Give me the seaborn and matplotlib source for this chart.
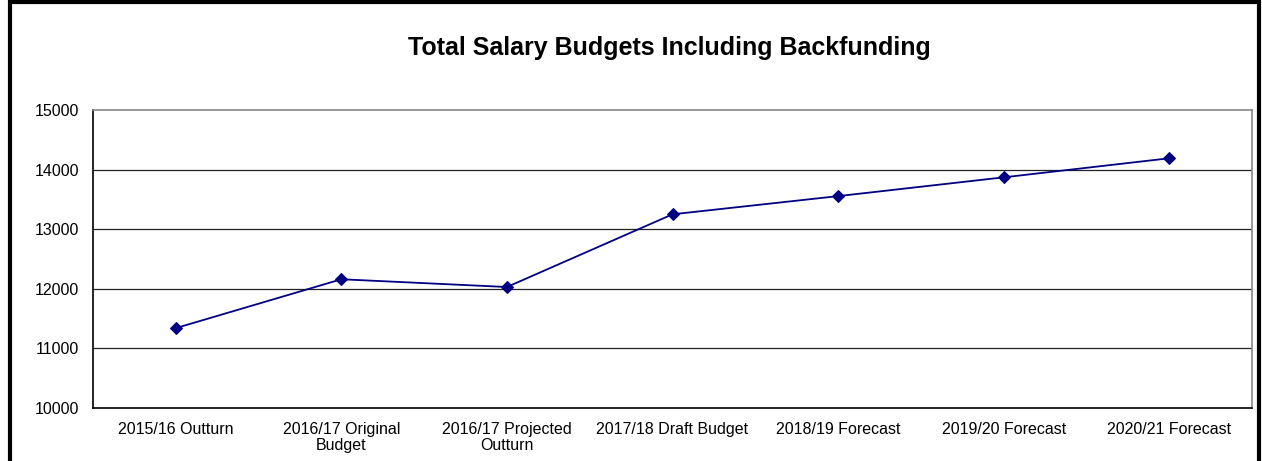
import numpy as np
import pandas as pd
import matplotlib
matplotlib.use("Agg")
import matplotlib.pyplot as plt
import seaborn as sns
from matplotlib.patches import Rectangle

categories = ["2015/16 Outturn", "2016/17 Original\nBudget", "2016/17 Projected\nOutturn",
              "2017/18 Draft Budget", "2018/19 Forecast", "2019/20 Forecast", "2020/21 Forecast"]
values = [11340, 12160, 12030, 13250, 13555, 13870, 14190]
y_ticks = [10000, 11000, 12000, 13000, 14000, 15000]

sns.set_style("white")
plt.rcParams["font.family"] = ["Liberation Sans", "DejaVu Sans"]
plt.rcParams["text.color"] = "black"
plt.rcParams["xtick.color"] = "black"
plt.rcParams["ytick.color"] = "black"

df = pd.DataFrame({"pos": np.arange(len(categories)), "value": values})

fig = plt.figure(figsize=(12.62, 4.61), dpi=100)
ax = fig.add_axes([93 / 1262, 1 - 408 / 461, (1252 - 93) / 1262, (408 - 110) / 461])

for y in y_ticks[1:-1]:
    ax.axhline(y, color="#222222", lw=0.9, zorder=1)

sns.lineplot(data=df, x="pos", y="value", ax=ax, color="#000080", lw=1.3,
             marker="D", markersize=6.5, markeredgecolor="#000080", zorder=3)

ax.set_xlim(-0.5, len(categories) - 0.5)
ax.set_ylim(10000, 15000)
ax.set_yticks(y_ticks)
ax.set_xticks(np.arange(len(categories)))
ax.set_xticklabels(categories, fontsize=11.5, linespacing=1.1)
ax.set_xticks(np.arange(len(categories) + 1) - 0.5, minor=True)
ax.tick_params(axis="x", which="major", length=0, pad=10)
ax.tick_params(axis="x", which="minor", length=5, width=1, color="black", direction="out")
ax.tick_params(axis="y", length=5, width=1, color="black", direction="out", labelsize=11.5, pad=5)
ax.set_xlabel("")
ax.set_ylabel("")

for side in ["left", "bottom"]:
    ax.spines[side].set_color("black")
    ax.spines[side].set_linewidth(1.2)
for side in ["top", "right"]:
    ax.spines[side].set_visible(True)
    ax.spines[side].set_color("#888888")
    ax.spines[side].set_linewidth(1.2)

fig.text(669 / 1262, 1 - 48 / 461, "Total Salary Budgets Including Backfunding",
         ha="center", va="center", fontsize=18, fontweight="bold", color="black")

fig.patches.append(Rectangle((10 / 1262, -0.05), (1259 - 10) / 1262, 1.05 - 2 / 461,
                             transform=fig.transFigure, fill=False, edgecolor="black",
                             lw=3, zorder=10))

fig.savefig("out.png", dpi=100)
